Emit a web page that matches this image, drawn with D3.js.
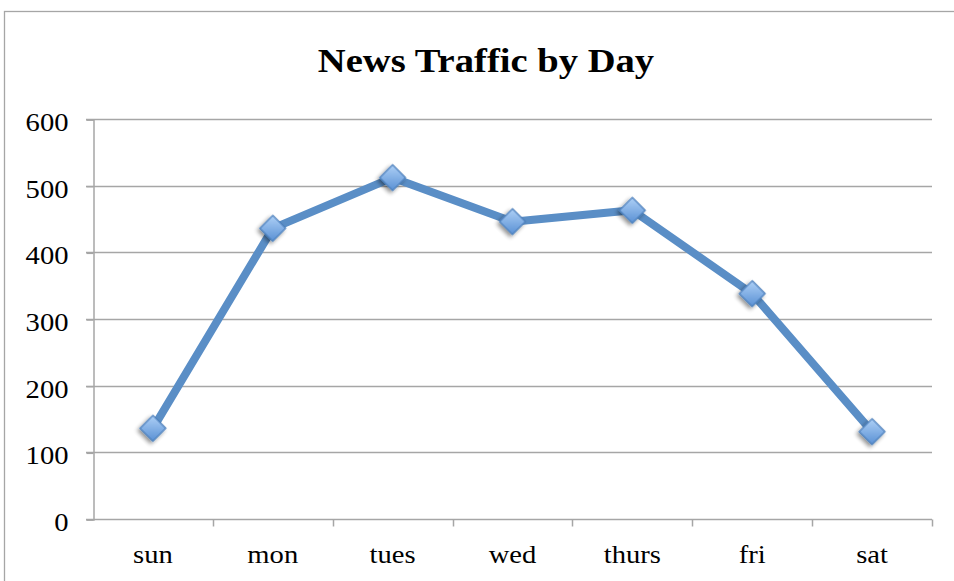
<!DOCTYPE html>
<html>
<head>
<meta charset="utf-8">
<script src="https://cdn.jsdelivr.net/npm/d3@7"></script>
<style>
  body { margin: 0; background: #fff; }
  svg { display: block; }
  text { font-family: "Liberation Serif", "DejaVu Serif", serif; fill: #000; }
</style>
</head>
<body>
<svg width="954" height="581"></svg>
<script>
const W = 954, H = 581;
const margin = {left: 93, top: 119, right: 22, bottom: 62};
const SX = 1.1; // widen the serif a bit, the original face is broader

// data
const days = ['sun', 'mon', 'tues', 'wed', 'thurs', 'fri', 'sat'];
const traffic = [136, 436, 512, 446, 463, 338, 131];
const yTicks = [0, 100, 200, 300, 400, 500, 600];

const GRID = '#a6a6a6', LINE = '#5a8ec6', MARK_EDGE = '#4a7ebb';

const svg = d3.select('svg');

// drop shadow + gradient for the diamonds
const defs = svg.append('defs');
const grad = defs.append('linearGradient')
    .attr('id', 'mk').attr('x1', 0).attr('y1', 0).attr('x2', 1).attr('y2', 1);
grad.append('stop').attr('offset', '0%').attr('stop-color', '#aed0f6');
grad.append('stop').attr('offset', '100%').attr('stop-color', '#5990d4');
const sh = defs.append('filter').attr('id', 'sh')
    .attr('x', '-50%').attr('y', '-50%').attr('width', '200%').attr('height', '200%');
sh.append('feGaussianBlur').attr('in', 'SourceAlpha').attr('stdDeviation', 2);
sh.append('feOffset').attr('dx', 0).attr('dy', 3).attr('result', 'b');
sh.append('feComponentTransfer').append('feFuncA').attr('type', 'linear').attr('slope', 0.45);
const merge = sh.append('feMerge');
merge.append('feMergeNode');
merge.append('feMergeNode').attr('in', 'SourceGraphic');

// chart frame (runs off the right and bottom edges)
svg.append('rect')
    .attr('x', 4.5).attr('y', 11.5)
    .attr('width', W + 10).attr('height', H + 10)
    .attr('fill', '#fff').attr('stroke', GRID).attr('stroke-width', 1.3);

svg.append('text')
    .attr('transform', 'translate(486,72) scale(1.17,1)')
    .attr('text-anchor', 'middle')
    .attr('font-weight', 'bold')
    .attr('font-size', 33)
    .text('News Traffic by Day');

const x = d3.scaleBand().domain(days).range([margin.left, W - margin.right]);
const y = d3.scaleLinear().domain([0, 600]).range([H - margin.bottom, margin.top]);

// gridlines
svg.append('g')
    .selectAll('line')
    .data(yTicks.slice(1))
    .join('line')
    .attr('x1', margin.left - 7).attr('x2', W - margin.right)
    .attr('y1', d => Math.round(y(d)) + 0.5).attr('y2', d => Math.round(y(d)) + 0.5)
    .attr('stroke', GRID).attr('stroke-width', 1.5);

// y axis
const yAxis = svg.append('g')
    .attr('transform', `translate(${margin.left + 0.5},0.5)`)
    .call(d3.axisLeft(y).tickValues(yTicks).tickSize(7).tickPadding(18));
yAxis.selectAll('path, line').attr('stroke', GRID).attr('stroke-width', 1.5);
yAxis.selectAll('text')
    .attr('font-family', '"Liberation Serif", "DejaVu Serif", serif')
    .attr('font-size', 26).attr('fill', '#000').attr('dy', '0.42em')
    .attr('x', 0)
    .attr('transform', `translate(-25,0) scale(${SX},1)`);

// x axis: ticks on band edges
const xAxis = svg.append('g')
    .attr('transform', `translate(0,${H - margin.bottom + 0.5})`);
xAxis.append('line')
    .attr('x1', margin.left - 7).attr('x2', W - margin.right)
    .attr('stroke', GRID).attr('stroke-width', 1.5);
xAxis.selectAll('line.tk')
    .data(days.slice(1).concat(['end']))
    .join('line').attr('class', 'tk')
    .attr('x1', (d, i) => Math.round(x(days[0]) + (i + 1) * x.bandwidth()) + 0.5)
    .attr('x2', (d, i) => Math.round(x(days[0]) + (i + 1) * x.bandwidth()) + 0.5)
    .attr('y1', 0).attr('y2', 7)
    .attr('stroke', GRID).attr('stroke-width', 1.5);
xAxis.selectAll('text')
    .data(days)
    .join('text')
    .attr('transform', d => `translate(${x(d) + x.bandwidth() / 2},43) scale(${SX},1)`)
    .attr('text-anchor', 'middle')
    .attr('font-size', 26)
    .text(d => d);

// series line
const pts = days.map((d, i) => [x(d) + x.bandwidth() / 2, y(traffic[i])]);
svg.append('path')
    .attr('d', d3.line()(pts))
    .attr('fill', 'none')
    .attr('stroke', LINE)
    .attr('stroke-width', 8)
    .attr('stroke-linejoin', 'round');

// diamond markers
svg.append('g')
    .selectAll('path')
    .data(pts)
    .join('path')
    .attr('d', d3.symbol(d3.symbolSquare, 330)())
    .attr('transform', p => `translate(${p[0]},${p[1]}) rotate(45)`)
    .attr('fill', 'url(#mk)')
    .attr('stroke', MARK_EDGE)
    .attr('stroke-width', 1.2)
    .attr('filter', 'url(#sh)');
</script>
</body>
</html>
